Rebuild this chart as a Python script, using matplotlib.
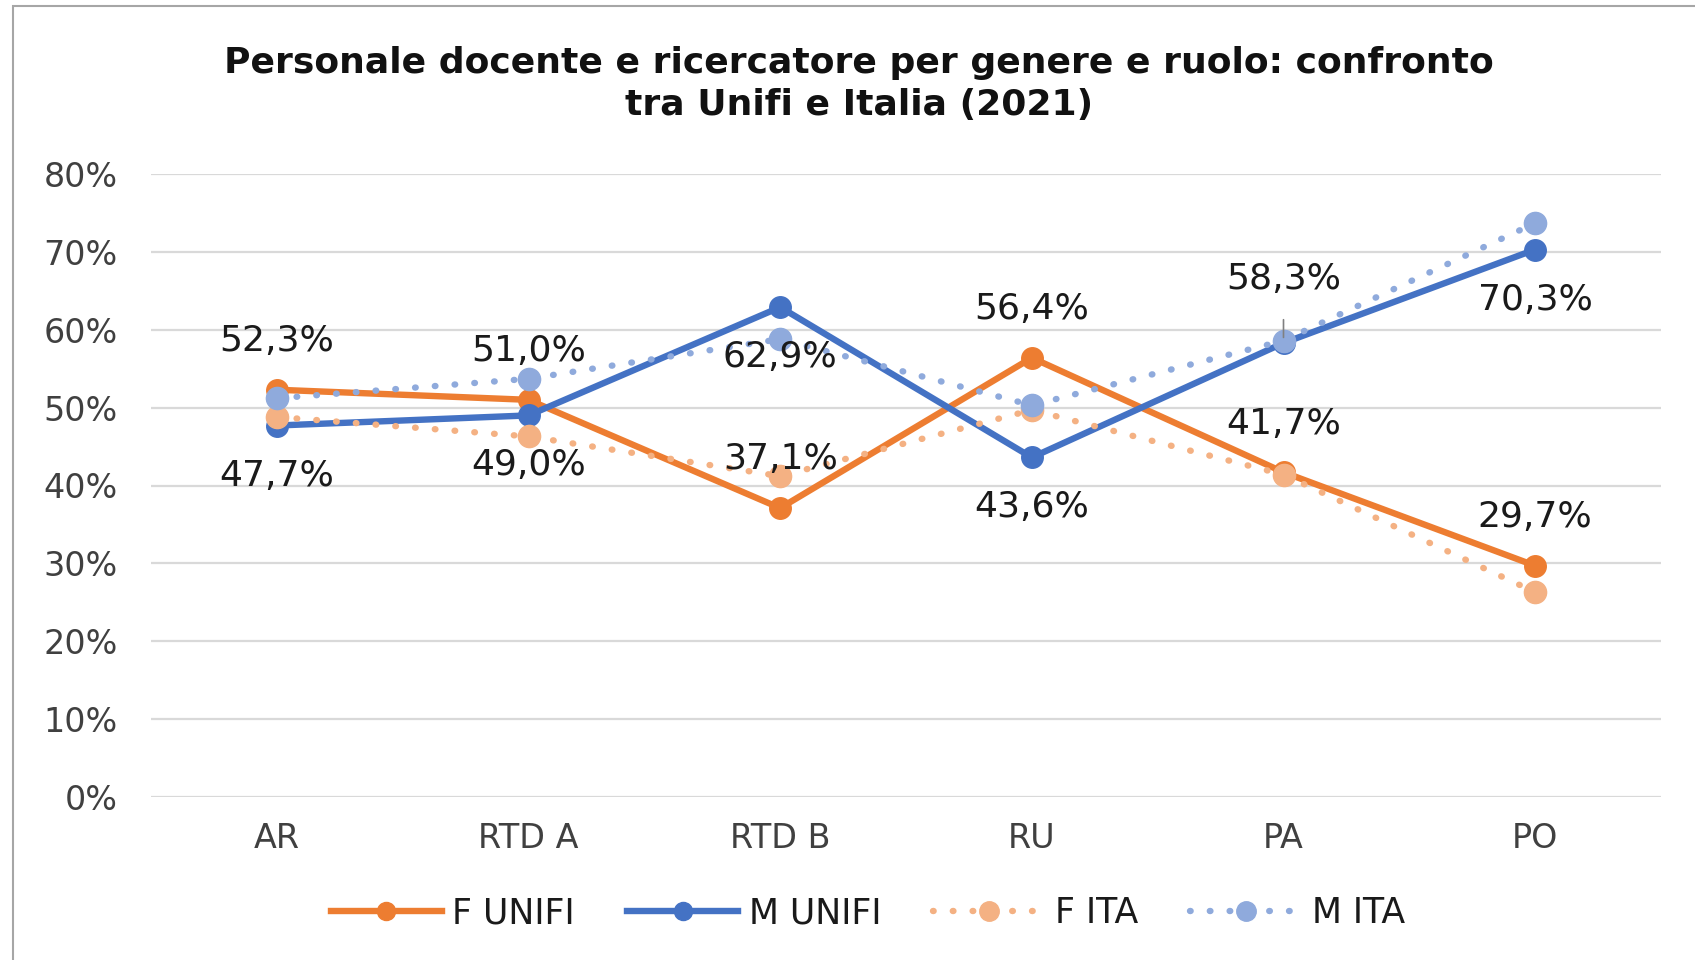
import matplotlib
matplotlib.use("Agg")
import matplotlib.pyplot as plt
from matplotlib.lines import Line2D
from matplotlib.patches import Rectangle

categories = ["AR", "RTD A", "RTD B", "RU", "PA", "PO"]
f_unifi = [52.3, 51.0, 37.1, 56.4, 41.7, 29.7]
m_unifi = [47.7, 49.0, 62.9, 43.6, 58.3, 70.3]
f_ita = [48.8, 46.3, 41.2, 49.7, 41.4, 26.3]
m_ita = [51.2, 53.7, 58.8, 50.3, 58.6, 73.7]
y_ticks = [0, 10, 20, 30, 40, 50, 60, 70, 80]
y_tick_labels = ["0%", "10%", "20%", "30%", "40%", "50%", "60%", "70%", "80%"]
series_names = ["F UNIFI", "M UNIFI", "F ITA", "M ITA"]
title = "Personale docente e ricercatore per genere e ruolo: confronto\ntra Unifi e Italia (2021)"

plt.rcParams['font.family'] = ['DejaVu Sans']

fig = plt.figure(figsize=(16.95, 9.6), dpi=100)
ax = fig.add_axes([151/1695, 1-797/960, (1661-151)/1695, (797-174)/960])

x = list(range(len(categories)))
c_f, c_m, c_fi, c_mi = "#ED7D31", "#4472C4", "#F4B183", "#8FAADC"
lw = 4.6
dot = (0, (0.1, 3.0))

ax.plot(x, f_unifi, color=c_f, lw=lw, marker='o', ms=15.5, zorder=3, solid_capstyle='round')
ax.plot(x, m_unifi, color=c_m, lw=lw, marker='o', ms=15.5, zorder=3, solid_capstyle='round')
ax.plot(x, f_ita, color=c_fi, lw=lw, ls=dot, dash_capstyle='round', marker='o', ms=16, zorder=4)
ax.plot(x, m_ita, color=c_mi, lw=lw, ls=dot, dash_capstyle='round', marker='o', ms=16, zorder=4)

ax.set_xlim(-0.5, len(categories) - 0.5)
ax.set_ylim(0, 80)
ax.set_yticks(y_ticks)
ax.set_yticklabels(y_tick_labels)
ax.set_xticks(x)
ax.set_xticklabels(categories)
ax.tick_params(axis='y', length=0, pad=24, labelsize=24, labelcolor='#404040')
ax.tick_params(axis='x', length=0, pad=18, labelsize=24, labelcolor='#404040')
ax.grid(axis='y', color='#D9D9D9', lw=1.6)
ax.set_axisbelow(True)
for s in ax.spines.values():
    s.set_visible(False)

def fmt(v):
    return f"{v:.1f}%".replace('.', ',')

lab_kw = dict(textcoords='offset points', ha='center', va='center', fontsize=26, color='#1a1a1a', zorder=6)
for i, v in enumerate(f_unifi):
    ax.annotate(fmt(v), (i, v), xytext=(0, 35), **lab_kw)
for i, v in enumerate(m_unifi):
    if categories[i] == "PA":
        ax.annotate(fmt(v), (i, v), xytext=(0, 46),
                    arrowprops=dict(arrowstyle='-', color='#808080', lw=1.2, shrinkA=15, shrinkB=4),
                    **lab_kw)
    else:
        ax.annotate(fmt(v), (i, v), xytext=(0, -36), **lab_kw)

fig.text(0.507, 1-84/960, title, ha='center', va='center', fontsize=26, fontweight='bold',
         color='#111111', linespacing=1.3)

handles = [
    Line2D([], [], color=c_f, lw=lw, marker='o', ms=13),
    Line2D([], [], color=c_m, lw=lw, marker='o', ms=13),
    Line2D([], [], color=c_fi, lw=lw, ls=dot, dash_capstyle='round', marker='o', ms=14),
    Line2D([], [], color=c_mi, lw=lw, ls=dot, dash_capstyle='round', marker='o', ms=14),
]
leg = fig.legend(handles, series_names, loc='center', bbox_to_anchor=(0.512, 1-913/960), ncol=4,
                 frameon=False, fontsize=25, handlelength=3.2, handletextpad=0.3, columnspacing=1.5,
                 labelcolor='#1a1a1a')

fig.add_artist(Rectangle((13/1695, -0.01), 1.02, 1 - 6/960 + 0.01, transform=fig.transFigure,
                         fill=False, edgecolor='#A6A6A6', lw=1.5))

fig.savefig("out.png", dpi=100)
